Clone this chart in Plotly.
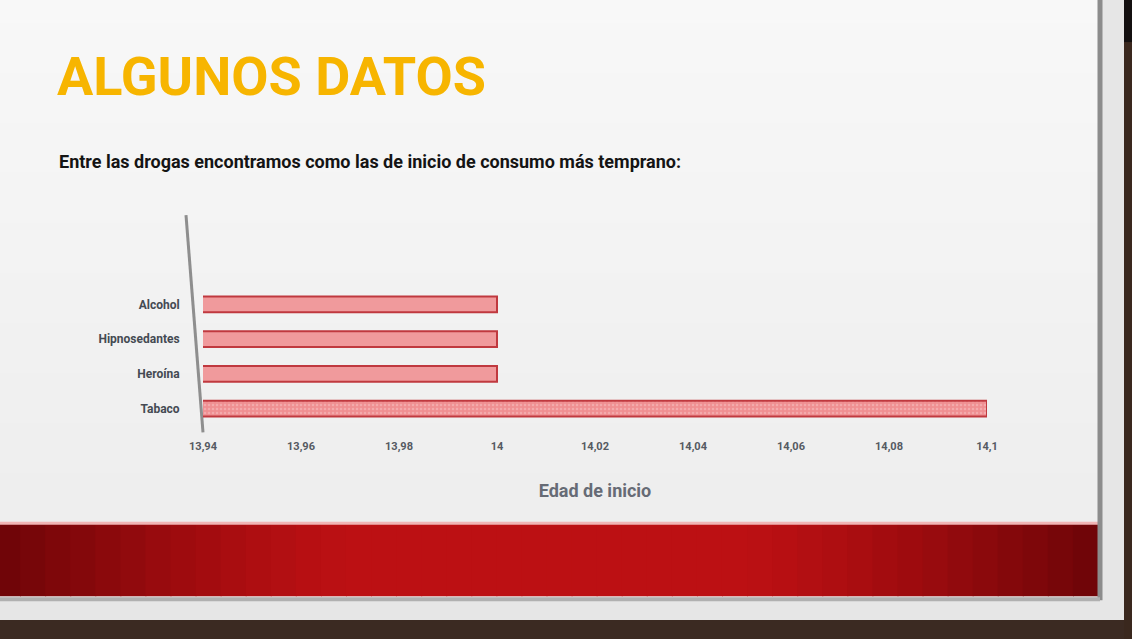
import plotly.graph_objects as go

# Datos del gráfico
drogas = ["Tabaco", "Heroína", "Hipnosedantes", "Alcohol"]
edad_inicio = [14.1, 14.0, 14.0, 14.0]
patrones = [".", "", "", ""]

tick_vals = [13.94, 13.96, 13.98, 14.0, 14.02, 14.04, 14.06, 14.08, 14.1]
tick_text = ["13,94", "13,96", "13,98", "14", "14,02", "14,04", "14,06", "14,08", "14,1"]

titulo = "ALGUNOS DATOS"
subtitulo = "Entre las drogas encontramos como las de inicio de consumo más temprano:"
eje_x = "Edad de inicio"

W, H = 1132, 639
# plot area in pixels
L, R, T, B = 203, 987, 286.5, 426.5


def px(x):
    return (x - L) / (R - L)


def py(y):
    return (B - y) / (B - T)


FONT = "Roboto, Noto Sans, sans-serif"

fig = go.Figure()

fig.add_trace(go.Bar(
    x=edad_inicio,
    y=drogas,
    orientation="h",
    width=0.46,
    marker=dict(
        color="#f09a9c",
        line=dict(color="#c0393f", width=2),
        pattern=dict(shape=patrones, fgcolor="#f6c4c5", bgcolor="#ef8f92", size=4, solidity=0.3),
    ),
    hoverinfo="x+y",
))

shapes = []


def rect(x0, y0, x1, y1, color, layer="below"):
    shapes.append(dict(
        type="rect", xref="paper", yref="paper",
        x0=px(x0), x1=px(x1), y0=py(y1), y1=py(y0),
        fillcolor=color, line=dict(width=0), layer=layer,
    ))


def mix(c1, c2, t):
    a = [int(c1[i:i + 2], 16) for i in (1, 3, 5)]
    b = [int(c2[i:i + 2], 16) for i in (1, 3, 5)]
    return "#" + "".join("%02x" % round(a[k] + (b[k] - a[k]) * t) for k in range(3))


# background: dark brick, light slide panel
rect(-5, -5, W + 5, H + 5, "#3b2a22")
rect(-5, -5, 1124, 622, "#e6e6e6")
# soft vertical fade on the slide
m = 24
for i in range(m):
    y0 = -5 + 605 * i / m
    y1 = -5 + 605 * (i + 1) / m + 1
    rect(-5, y0, 1098, y1, mix("#f8f8f8", "#ececec", i / (m - 1)))
rect(1124, -5, W + 5, 40, "#141010")
rect(1124, 40, W + 5, H + 5, "#3a281e")

# red band, darker towards both ends
edge, centre = "#6c0407", "#bc1013"
n = 44
for i in range(n):
    x0 = -5 + 1103 * i / n
    x1 = -5 + 1103 * (i + 1) / n + 1
    d = abs((i + 0.5) / n - 0.5) * 2
    t = max(0.0, (d - 0.35) / 0.65) ** 1.3
    rect(x0, 525, x1, 598, mix(centre, edge, t))
rect(-5, 523, 1098, 526, "#f1b5b5")

# grey frame lines
shapes.append(dict(type="line", xref="paper", yref="paper",
                   x0=px(1100), x1=px(1100), y0=py(-5), y1=py(602),
                   line=dict(color="#8c8c8c", width=5), layer="below"))
shapes.append(dict(type="line", xref="paper", yref="paper",
                   x0=px(-5), x1=px(1100), y0=py(601), y1=py(601),
                   line=dict(color="#b0b0b0", width=4), layer="below"))
# slanted value axis line
shapes.append(dict(type="line", xref="paper", yref="paper",
                   x0=px(186), x1=px(203), y0=py(214), y1=py(433),
                   line=dict(color="#8e8e8e", width=3), layer="below"))

annotations = [
    dict(text=titulo, x=px(55), y=py(74), xref="paper", yref="paper",
         xanchor="left", yanchor="middle", showarrow=False,
         font=dict(family=FONT, size=54, color="#f7b500", weight="bold")),
    dict(text=subtitulo, x=px(57), y=py(160), xref="paper", yref="paper",
         xanchor="left", yanchor="middle", showarrow=False,
         font=dict(family=FONT, size=18, color="#141414", weight="bold")),
]

fig.update_layout(
    width=W, height=H,
    margin=dict(l=L, r=W - R, t=T, b=H - B, pad=0),
    paper_bgcolor="#3b2a22",
    plot_bgcolor="rgba(0,0,0,0)",
    showlegend=False,
    separators=", ",
    shapes=shapes,
    annotations=annotations,
    xaxis=dict(
        range=[13.94, 14.1],
        tickvals=tick_vals, ticktext=tick_text,
        ticks="outside", ticklen=10, tickcolor="rgba(0,0,0,0)",
        showgrid=False, zeroline=False, showline=False,
        tickfont=dict(family=FONT, size=11, color="#555a62", weight="bold"),
        title=dict(text=eje_x, standoff=32,
                   font=dict(family=FONT, size=18, color="#666b75", weight="bold")),
    ),
    yaxis=dict(
        range=[-0.5, 3.5],
        showgrid=False, zeroline=False, showline=False,
        ticks="outside", ticklen=20, tickcolor="rgba(0,0,0,0)",
        tickfont=dict(family=FONT, size=12, color="#444a52", weight="bold"),
    ),
)

fig.write_html("out.html", config={"displayModeBar": False},
               post_script="document.body.style.margin='0';")
